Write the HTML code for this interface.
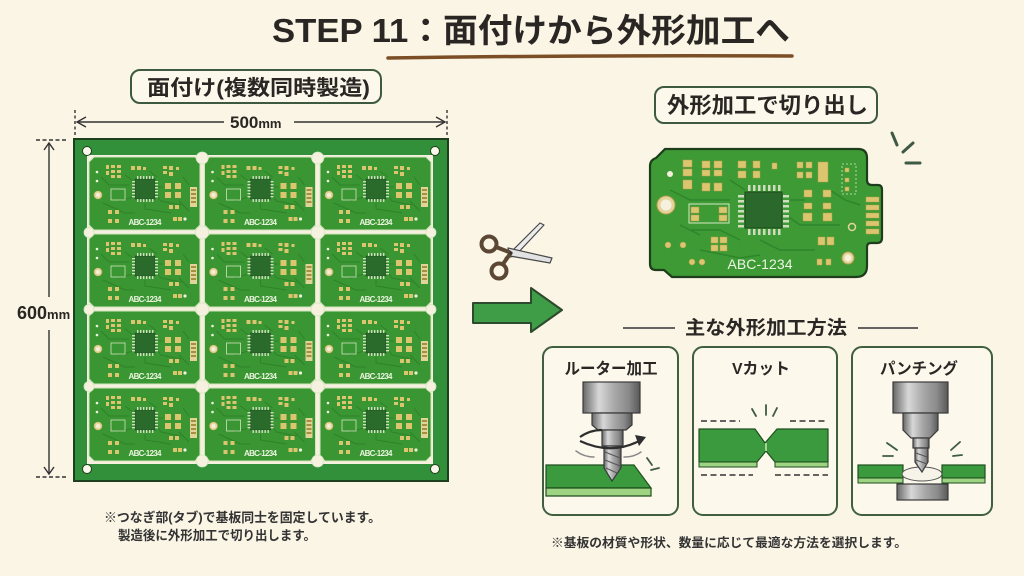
<!DOCTYPE html>
<html><head><meta charset="utf-8">
<style>
html,body{margin:0;padding:0;background:#fbf5e6;}
svg{display:block}
text{font-family:"Liberation Sans","Noto Sans CJK JP",sans-serif;font-weight:700;fill:#2a2623}
</style></head>
<body>
<svg width="1024" height="576" viewBox="0 0 1024 576" xmlns="http://www.w3.org/2000/svg">
<defs>
<linearGradient id="mg" x1="0" x2="1" y1="0" y2="0">
<stop offset="0" stop-color="#676767"/><stop offset=".28" stop-color="#d8d8d8"/><stop offset=".55" stop-color="#a8a8a8"/><stop offset=".8" stop-color="#8a8a8a"/><stop offset="1" stop-color="#585858"/>
</linearGradient>
<g id="bd">
<path d="M5 0H106L111 5V68L106 73H5L0 68V5Z" fill="#3a9632" stroke="#d2e6bc" stroke-width="1"/>
<g stroke="#2e8229" stroke-width="1" fill="none">
<path d="M12 20 L20 28 L40 28 M66 30 H74 M66 36 L72 44 L92 48 M30 44 L44 40 M14 46 L36 56 L46 56 M56 46 V52 L82 56 M94 20 L100 28 M36 18 L44 24 M60 14 L68 20 M90 44 L100 54"/>
</g>
<g fill="#dcc56f">
<rect x="17" y="8" width="3" height="4"/><rect x="17" y="14" width="3" height="4"/>
<rect x="22" y="8" width="4" height="3"/><rect x="22" y="13" width="4" height="3"/><rect x="22" y="18" width="4" height="3"/>
<rect x="28" y="8" width="4" height="3"/><rect x="28" y="13" width="4" height="3"/><rect x="28" y="18" width="4" height="3"/>
<rect x="42" y="9" width="4" height="4"/><rect x="48" y="9" width="4" height="4"/><rect x="54" y="10" width="3" height="3"/>
<rect x="74" y="9" width="4" height="3"/><rect x="74" y="14" width="4" height="3"/><rect x="80" y="9" width="4" height="4"/><rect x="80" y="15" width="4" height="4"/><rect x="87" y="10" width="3" height="3"/>
<rect x="76" y="26" width="6" height="6"/><rect x="86" y="26" width="6" height="6"/><rect x="76" y="35" width="6" height="6"/><rect x="86" y="35" width="6" height="6"/>
<rect x="101" y="30" width="7" height="20" fill="#e2d39a"/>
<rect x="19" y="53" width="4" height="4"/><rect x="26" y="53" width="4" height="4"/>
<rect x="19" y="62" width="4" height="4"/><rect x="26" y="62" width="4" height="4"/>
<rect x="84" y="60" width="4" height="4"/><rect x="89" y="60" width="4" height="4"/>
<rect x="80" y="48" width="4" height="4"/><rect x="86" y="48" width="4" height="4"/>
</g>
<g fill="#a88f3f"><rect x="102" y="32" width="5" height="2"/><rect x="102" y="36" width="5" height="2"/><rect x="102" y="40" width="5" height="2"/><rect x="102" y="44" width="5" height="2"/></g>
<circle cx="8" cy="15" r="1.3" fill="#eef3e0"/><circle cx="8" cy="24" r="1.3" fill="#eef3e0"/><circle cx="96" cy="62" r="1.6" fill="#eef3e0"/>
<rect x="46" y="22" width="20" height="20" fill="#2a6b2c" stroke="#1f4f1f" stroke-width=".6"/>
<g fill="#cfdcc0">
<rect x="48" y="19" width="1.4" height="3"/><rect x="51" y="19" width="1.4" height="3"/><rect x="54" y="19" width="1.4" height="3"/><rect x="57" y="19" width="1.4" height="3"/><rect x="60" y="19" width="1.4" height="3"/><rect x="63" y="19" width="1.4" height="3"/>
<rect x="48" y="42" width="1.4" height="3"/><rect x="51" y="42" width="1.4" height="3"/><rect x="54" y="42" width="1.4" height="3"/><rect x="57" y="42" width="1.4" height="3"/><rect x="60" y="42" width="1.4" height="3"/><rect x="63" y="42" width="1.4" height="3"/>
<rect x="43" y="24" width="3" height="1.4"/><rect x="43" y="27" width="3" height="1.4"/><rect x="43" y="30" width="3" height="1.4"/><rect x="43" y="33" width="3" height="1.4"/><rect x="43" y="36" width="3" height="1.4"/><rect x="43" y="39" width="3" height="1.4"/>
<rect x="66" y="24" width="3" height="1.4"/><rect x="66" y="27" width="3" height="1.4"/><rect x="66" y="30" width="3" height="1.4"/><rect x="66" y="33" width="3" height="1.4"/><rect x="66" y="36" width="3" height="1.4"/><rect x="66" y="39" width="3" height="1.4"/>
</g>
<circle cx="9" cy="38" r="4" fill="#e4d69c" stroke="#c4ab5c" stroke-width=".6"/><circle cx="9" cy="38" r="2" fill="#f4efdc"/>
<rect x="22" y="32" width="14" height="11" fill="none" stroke="#d0e4bc" stroke-width=".8"/>
</g>
</defs>

<rect width="1024" height="576" fill="#fbf5e6"/>

<!-- Title -->
<text x="272" y="42" font-size="33" textLength="518" lengthAdjust="spacingAndGlyphs">STEP 11：面付けから外形加工へ</text>
<path d="M388,58 Q590,55 792,56" stroke="#7b4e26" stroke-width="3.5" fill="none" stroke-linecap="round"/>

<!-- Left label -->
<rect x="131" y="70" width="250" height="33" rx="9" fill="#fcf8ec" stroke="#3d5a40" stroke-width="2"/>
<text x="147" y="95" font-size="21" textLength="223" lengthAdjust="spacingAndGlyphs">面付け(複数同時製造)</text>

<!-- 500mm dimension -->
<g stroke="#333" stroke-width="1.4" fill="none">
<path d="M75,110 V137 M447,110 V137" stroke-dasharray="3 2.5"/>
<path d="M77,122 H224 M294,122 H445"/>
<path d="M86,117 L77,122 L86,127 M436,117 L445,122 L436,127"/>
</g>
<text x="230" y="128" font-size="17">500<tspan font-size="13">mm</tspan></text>

<!-- 600mm dimension -->
<g stroke="#333" stroke-width="1.4" fill="none">
<path d="M36,140 H66 M36,477 H66" stroke-dasharray="4 2.5"/>
<path d="M49,144 V297 M49,330 V474"/>
<path d="M44,150 L49,143 L54,150 M44,467 L49,474 L54,467"/>
</g>
<text x="17" y="319" font-size="18">600<tspan font-size="13">mm</tspan></text>

<!-- Panel -->
<rect x="74" y="139" width="374" height="342" fill="#32903a" stroke="#1e3f1e" stroke-width="2"/>
<rect x="87" y="155" width="346" height="309" fill="#f6f0de"/>
<use href="#bd" x="89" y="157"/><use href="#bd" x="204.5" y="157"/><use href="#bd" x="320" y="157"/>
<use href="#bd" x="89" y="234"/><use href="#bd" x="204.5" y="234"/><use href="#bd" x="320" y="234"/>
<use href="#bd" x="89" y="311"/><use href="#bd" x="204.5" y="311"/><use href="#bd" x="320" y="311"/>
<use href="#bd" x="89" y="388"/><use href="#bd" x="204.5" y="388"/><use href="#bd" x="320" y="388"/>
<g fill="#f6f0de" stroke="#d6e6c4" stroke-width=".8">
<circle cx="202.2" cy="232.5" r="6.5"/><circle cx="317.7" cy="232.5" r="6.5"/>
<circle cx="202.2" cy="309.5" r="6.5"/><circle cx="317.7" cy="309.5" r="6.5"/>
<circle cx="202.2" cy="386.5" r="6.5"/><circle cx="317.7" cy="386.5" r="6.5"/>
<circle cx="202.2" cy="158" r="6"/><circle cx="317.7" cy="158" r="6"/>
<circle cx="202.2" cy="461" r="6"/><circle cx="317.7" cy="461" r="6"/>
<circle cx="89" cy="232.5" r="5"/><circle cx="89" cy="309.5" r="5"/><circle cx="89" cy="386.5" r="5"/>
<circle cx="431" cy="232.5" r="5"/><circle cx="431" cy="309.5" r="5"/><circle cx="431" cy="386.5" r="5"/>
</g>
<g fill="#fbf7ea" stroke="#1e3f1e" stroke-width="1">
<circle cx="87" cy="151" r="4.5"/><circle cx="435" cy="151" r="4.5"/>
<circle cx="87" cy="469" r="4.5"/><circle cx="435" cy="469" r="4.5"/>
</g>
<g font-size="8" text-anchor="middle">
<text x="145" y="225" textLength="33" style="fill:#eaf4df">ABC-1234</text><text x="260.5" y="225" textLength="33" style="fill:#eaf4df">ABC-1234</text><text x="376" y="225" textLength="33" style="fill:#eaf4df">ABC-1234</text>
<text x="145" y="302" textLength="33" style="fill:#eaf4df">ABC-1234</text><text x="260.5" y="302" textLength="33" style="fill:#eaf4df">ABC-1234</text><text x="376" y="302" textLength="33" style="fill:#eaf4df">ABC-1234</text>
<text x="145" y="379" textLength="33" style="fill:#eaf4df">ABC-1234</text><text x="260.5" y="379" textLength="33" style="fill:#eaf4df">ABC-1234</text><text x="376" y="379" textLength="33" style="fill:#eaf4df">ABC-1234</text>
<text x="145" y="456" textLength="33" style="fill:#eaf4df">ABC-1234</text><text x="260.5" y="456" textLength="33" style="fill:#eaf4df">ABC-1234</text><text x="376" y="456" textLength="33" style="fill:#eaf4df">ABC-1234</text>
</g>

<!-- left notes -->
<text x="104" y="522" font-size="13" textLength="277" lengthAdjust="spacingAndGlyphs" style="fill:#333">※つなぎ部(タブ)で基板同士を固定しています。</text>
<text x="118" y="540" font-size="13" textLength="198" lengthAdjust="spacingAndGlyphs" style="fill:#333">製造後に外形加工で切り出します。</text>

<!-- Scissors -->
<g stroke="#4a4a4a" stroke-width="1.2" stroke-linejoin="round">
<polygon points="505,258 540,223 544,225 515,256" fill="#ececec"/>
<polygon points="508,248 552,258 550,263 510,256" fill="#e2e2e2"/>
</g>
<g stroke="#5b4733" stroke-width="4" fill="none" stroke-linecap="round">
<circle cx="489" cy="244" r="7.5"/><path d="M496,247 L509,252"/>
<circle cx="499" cy="271" r="7.5"/><path d="M503,264 L510,254"/>
</g>
<circle cx="511" cy="253" r="1.6" fill="#333"/>

<!-- Green arrow -->
<path d="M473,303 H531 V288 L562,310 L531,332 V323 H473 Z" fill="#3f9c47" stroke="#2d4a2d" stroke-width="2" stroke-linejoin="round"/>

<!-- Right label -->
<rect x="655" y="87" width="222" height="36" rx="9" fill="#fcf8ec" stroke="#3d5a40" stroke-width="2"/>
<text x="667" y="113" font-size="22" textLength="201" lengthAdjust="spacingAndGlyphs">外形加工で切り出し</text>

<!-- sparkle -->
<g stroke="#3e5a44" stroke-width="3" stroke-linecap="round">
<path d="M892,133 L897,145 M913,143 L903,152 M906,163 H920"/>
</g>

<!-- Single PCB -->
<path d="M665,149 H858 Q867,149 867,158 V180 Q867,185 872,185 H878 Q882,185 882,190 V238 Q882,243 877,243 H871 Q867,243 867,247 V266 Q867,277 856,277 H672 L664,270 L656,270 Q650,270 650,264 V166 Q650,160 656,158 Z" fill="#3d9a34" stroke="#1d3d1d" stroke-width="2.2"/>
<g stroke="#2f852c" stroke-width="1.5" fill="none">
<path d="M670,190 L690,200 L730,200 M690,230 L720,230 L740,240 M790,200 L805,200 M786,215 L800,225 L840,225 M700,250 L740,258 L760,255 M830,190 L845,200 L860,205 M680,225 L700,235 M760,240 L780,250 L815,250 M730,180 L745,190"/>
</g>
<circle cx="670" cy="174" r="3" fill="#f4efdc"/>
<circle cx="666" cy="205" r="9" fill="#e2d49a" stroke="#b89f50"/><circle cx="666" cy="205" r="5.5" fill="#f6f1df"/>
<circle cx="848" cy="258" r="6" fill="#e2d49a" stroke="#b89f50"/><circle cx="848" cy="258" r="3.5" fill="#f6f1df"/>
<circle cx="852" cy="227" r="3.5" fill="none" stroke="#e2d49a" stroke-width="1.5"/>
<rect x="689" y="204" width="40" height="19" fill="none" stroke="#d7e8c4" stroke-width="1"/>
<rect x="842" y="164" width="14" height="30" fill="none" stroke="#d7e8c4" stroke-width=".8" stroke-dasharray="2 2"/>
<g fill="#dcc56f" stroke="#b59f4f" stroke-width=".5">
<rect x="683" y="160" width="9" height="7"/><rect x="683" y="169" width="9" height="7"/><rect x="683" y="180" width="9" height="9"/>
<rect x="702" y="161" width="8" height="7"/><rect x="714" y="161" width="8" height="7"/>
<rect x="702" y="170" width="8" height="6"/><rect x="714" y="170" width="8" height="6"/>
<rect x="702" y="183" width="8" height="8"/><rect x="714" y="183" width="8" height="8"/>
<rect x="738" y="161" width="8" height="7"/><rect x="753" y="161" width="7" height="7"/><rect x="738" y="171" width="8" height="7"/><rect x="753" y="171" width="7" height="7"/>
<rect x="772" y="163" width="5" height="6"/>
<rect x="797" y="162" width="6" height="6"/><rect x="806" y="162" width="6" height="6"/><rect x="797" y="172" width="6" height="6"/><rect x="806" y="172" width="6" height="6"/>
<rect x="818" y="162" width="10" height="20"/>
<rect x="845" y="168" width="4" height="4"/><rect x="845" y="178" width="4" height="4"/><rect x="845" y="187" width="4" height="4"/>
<rect x="804" y="190" width="8" height="7"/><rect x="823" y="190" width="8" height="7"/>
<rect x="804" y="203" width="8" height="6"/><rect x="823" y="203" width="8" height="6"/>
<rect x="803" y="213" width="9" height="8"/><rect x="823" y="213" width="9" height="8"/>
<rect x="691" y="207" width="8" height="6"/><rect x="691" y="215" width="8" height="6"/><rect x="719" y="207" width="8" height="6"/><rect x="719" y="215" width="8" height="6"/>
<rect x="711" y="237" width="7" height="6"/><rect x="720" y="237" width="7" height="6"/><rect x="711" y="245" width="7" height="6"/><rect x="720" y="245" width="7" height="6"/>
<rect x="818" y="237" width="7" height="8"/><rect x="827" y="237" width="7" height="8"/>
<rect x="817" y="259" width="5" height="6"/><rect x="826" y="259" width="5" height="6"/>
<rect x="866" y="197" width="13" height="5"/><rect x="866" y="205" width="13" height="5"/><rect x="866" y="213" width="13" height="5"/><rect x="866" y="221" width="13" height="5"/><rect x="866" y="229" width="13" height="5"/>
<circle cx="668" cy="245" r="3"/><circle cx="683" cy="245" r="3"/><circle cx="692" cy="262" r="3"/><circle cx="702" cy="262" r="3"/>
</g>
<rect x="745" y="192" width="37" height="36" fill="#2a682b" stroke="#1d4a1d"/>
<g fill="#cfdcc0">
<rect x="748" y="185" width="2.5" height="6"/><rect x="753" y="185" width="2.5" height="6"/><rect x="758" y="185" width="2.5" height="6"/><rect x="763" y="185" width="2.5" height="6"/><rect x="768" y="185" width="2.5" height="6"/><rect x="773" y="185" width="2.5" height="6"/><rect x="778" y="185" width="2.5" height="6"/>
<rect x="748" y="229" width="2.5" height="6"/><rect x="753" y="229" width="2.5" height="6"/><rect x="758" y="229" width="2.5" height="6"/><rect x="763" y="229" width="2.5" height="6"/><rect x="768" y="229" width="2.5" height="6"/><rect x="773" y="229" width="2.5" height="6"/><rect x="778" y="229" width="2.5" height="6"/>
<rect x="738" y="195" width="6" height="2.5"/><rect x="738" y="200" width="6" height="2.5"/><rect x="738" y="205" width="6" height="2.5"/><rect x="738" y="210" width="6" height="2.5"/><rect x="738" y="215" width="6" height="2.5"/><rect x="738" y="220" width="6" height="2.5"/><rect x="738" y="225" width="6" height="2.5"/>
<rect x="783" y="195" width="6" height="2.5"/><rect x="783" y="200" width="6" height="2.5"/><rect x="783" y="205" width="6" height="2.5"/><rect x="783" y="210" width="6" height="2.5"/><rect x="783" y="215" width="6" height="2.5"/><rect x="783" y="220" width="6" height="2.5"/><rect x="783" y="225" width="6" height="2.5"/>
</g>
<text x="760" y="269" font-size="14" text-anchor="middle" textLength="65" style="fill:#eef5e6;font-weight:400">ABC-1234</text>

<!-- Section title -->
<g stroke="#333" stroke-width="1.5"><path d="M623,328 H675 M858,328 H918"/></g>
<text x="685" y="334" font-size="19" textLength="162" lengthAdjust="spacingAndGlyphs">主な外形加工方法</text>

<!-- Cards -->
<g fill="#fcf8ec" stroke="#3f5f3f" stroke-width="2">
<rect x="543" y="347" width="135" height="168" rx="10"/>
<rect x="693" y="347" width="144" height="168" rx="10"/>
<rect x="852" y="347" width="140" height="168" rx="10"/>
</g>
<text x="611" y="374" font-size="16" text-anchor="middle" textLength="93" lengthAdjust="spacingAndGlyphs">ルーター加工</text>
<text x="761" y="374" font-size="16" text-anchor="middle" textLength="58" lengthAdjust="spacingAndGlyphs">Vカット</text>
<text x="919" y="374" font-size="16" text-anchor="middle" textLength="78" lengthAdjust="spacingAndGlyphs">パンチング</text>

<!-- Card1 router -->
<polygon points="546,465 634,465 651,488 546,488" fill="#3b9a3e" stroke="#1f4f1f" stroke-width="1.2"/>
<polygon points="546,488 651,488 651,496 546,496" fill="#9ed382" stroke="#1f4f1f" stroke-width="1.2"/>
<g stroke="#3a3a3a" stroke-width="1.2" fill="url(#mg)">
<rect x="583" y="382" width="57" height="31"/>
<path d="M592,413 H632 V425 L626,430 H598 L592,425 Z"/>
<rect x="602" y="430" width="21" height="16"/>
<path d="M604,446 H621 V468 L612,481 L604,468 Z"/>
</g>
<path d="M605,452 L620,458 M605,460 L620,466 M606,468 L617,473" stroke="#555" stroke-width="1" fill="none"/>
<path d="M580,441 Q612,456 641,440" stroke="#2e2e2e" stroke-width="2.2" fill="none"/>
<polygon points="635,435 646,437 639,446" fill="#2e2e2e"/>
<path d="M580,437 Q590,430 602,430" stroke="#2e2e2e" stroke-width="2.2" fill="none"/>
<g stroke="#8a8a8a" stroke-width="1.5" fill="none" stroke-linecap="round">
<path d="M576,451 Q584,457 594,457 M624,457 Q634,457 641,452"/>
</g>
<g stroke="#3e5a44" stroke-width="1.8" stroke-linecap="round"><path d="M647,458 L652,465 M651,470 L659,468"/></g>

<!-- Card2 V-cut -->
<g stroke="#333" stroke-width="1.5" stroke-dasharray="6 3.5"><path d="M701,421 H740 M790,421 H827 M701,475 H753 M775,475 H828"/></g>
<polygon points="699,429 755,429 765,443 777,429 828,429 828,462 775,462 766,451 757,462 699,462" fill="#3b9a3e" stroke="#1f4f1f" stroke-width="1.2" stroke-linejoin="round"/>
<path d="M766,443 V451" stroke="#c8e6b0" stroke-width="1.5"/>
<rect x="699" y="462" width="58" height="5" fill="#9ed382" stroke="#1f4f1f" stroke-width="1"/>
<rect x="775" y="462" width="53" height="5" fill="#9ed382" stroke="#1f4f1f" stroke-width="1"/>
<g stroke="#3e5a44" stroke-width="1.8" stroke-linecap="round"><path d="M752,409 L756,416 M766,405 V415 M777,408 L773,416"/></g>

<!-- Card3 punching -->
<rect x="858" y="465" width="45" height="13" fill="#3b9a3e" stroke="#1f4f1f" stroke-width="1.2"/>
<rect x="858" y="478" width="45" height="5" fill="#9ed382" stroke="#1f4f1f" stroke-width="1"/>
<rect x="942" y="465" width="43" height="13" fill="#3b9a3e" stroke="#1f4f1f" stroke-width="1.2"/>
<rect x="942" y="478" width="43" height="5" fill="#9ed382" stroke="#1f4f1f" stroke-width="1"/>
<rect x="897" y="484" width="51" height="16" fill="url(#mg)" stroke="#3a3a3a" stroke-width="1.2"/>
<ellipse cx="922" cy="474" rx="20" ry="7" fill="#f6f3e8" stroke="#555" stroke-width="1"/>
<g stroke="#3a3a3a" stroke-width="1.2" fill="url(#mg)">
<rect x="893" y="382" width="55" height="31"/>
<path d="M903,413 H938 V430 L930,438 H911 L903,430 Z"/>
<rect x="913" y="438" width="16" height="10"/>
<path d="M915,448 H928 V462 L922,472 L915,462 Z"/>
</g>
<path d="M916,453 L927,457 M916,460 L927,464" stroke="#555" stroke-width="1"/>
<g stroke="#3e5a44" stroke-width="1.8" stroke-linecap="round"><path d="M887,443 L897,450 M883,456 L893,456 M960,442 L951,450 M962,455 L953,456"/></g>

<!-- right note -->
<text x="551" y="547" font-size="12.5" textLength="356" lengthAdjust="spacingAndGlyphs" style="fill:#333">※基板の材質や形状、数量に応じて最適な方法を選択します。</text>
</svg>
</body></html>
